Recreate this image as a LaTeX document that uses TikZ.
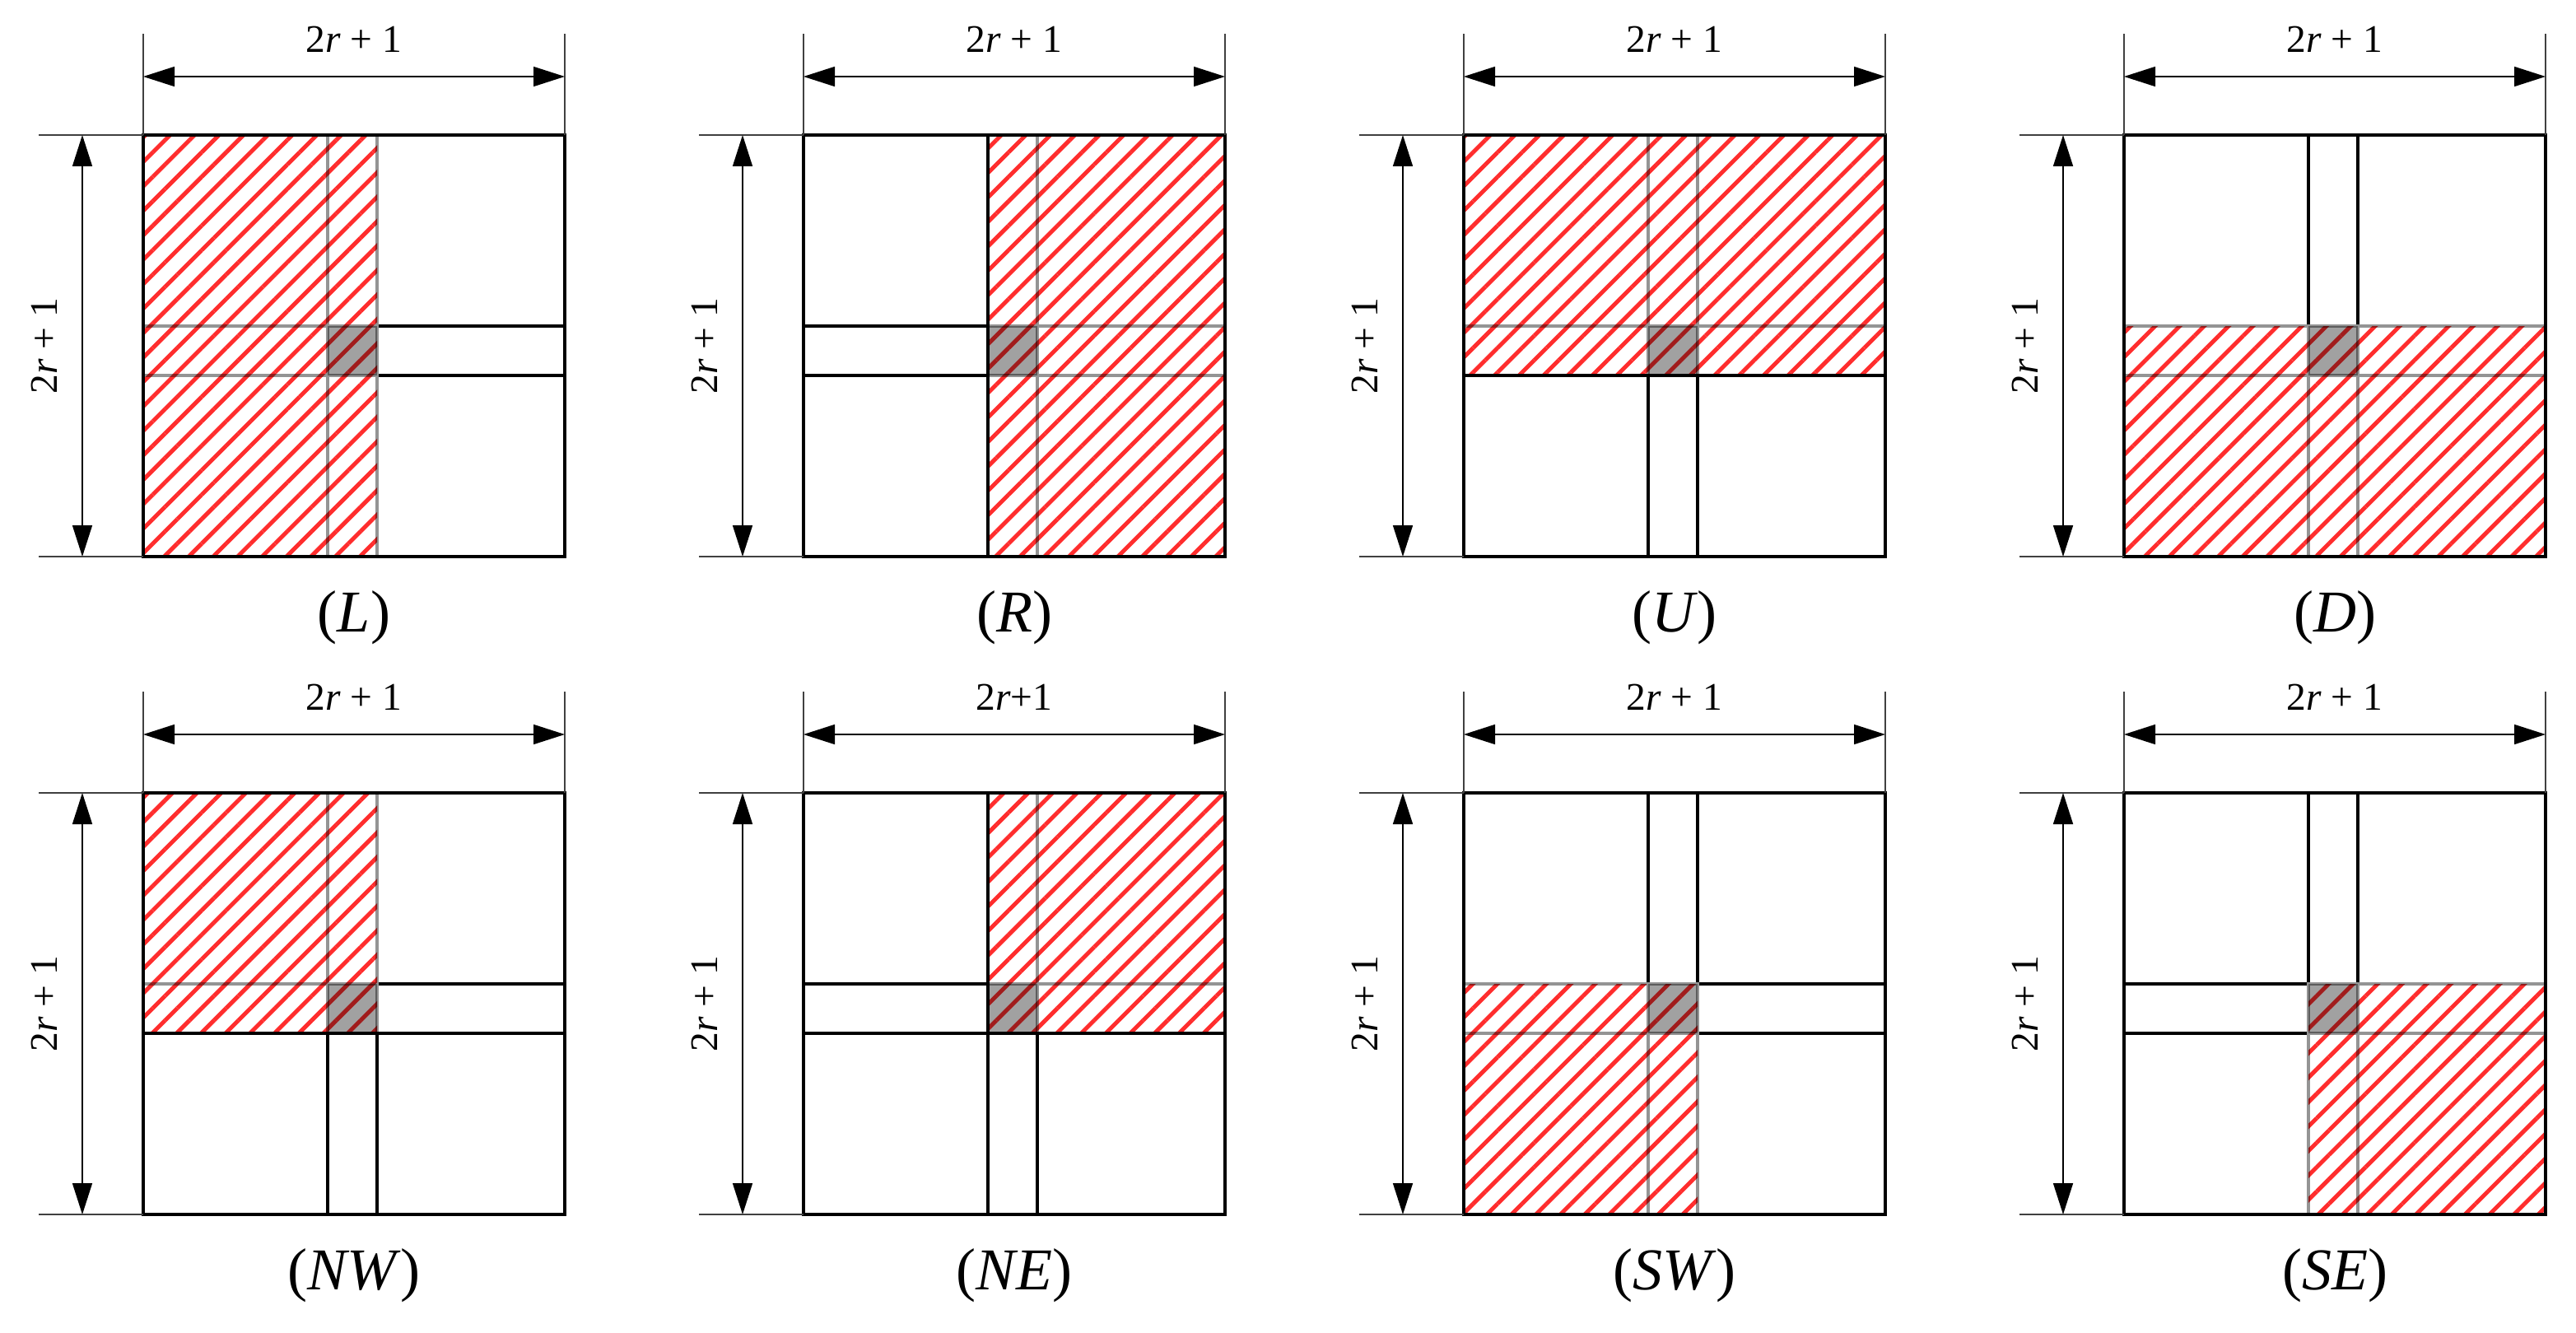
\documentclass[tikz,border=0pt]{standalone}
\usepackage{fontspec}
\setmainfont{Liberation Serif}
\usetikzlibrary{arrows.meta,calc,patterns.meta}

% size of the window and position of the centre strips
\def\sqs{5.12}
\def\sxa{2.24}
\def\sxb{2.84}
\def\sya{2.20}
\def\syb{2.80}

\definecolor{hatchred}{RGB}{255,45,45}

\tikzset{
  boxline/.style={line width=1.15pt, line cap=rect},
  fadeline/.style={line width=0.9pt, draw=black, draw opacity=0.42},
  hatchfill/.style={pattern={Lines[angle=45,distance=0.21cm,line width=0.05cm]}, pattern color=hatchred},
  centrecell/.style={fill=black, fill opacity=0.37},
  extline/.style={line width=0.45pt, draw=black!75},
  dimarrow/.style={line width=0.45pt, {Triangle[length=0.38cm,width=0.24cm]}-{Triangle[length=0.38cm,width=0.24cm]}},
  dimlabel/.style={font=\fontsize{13.5}{16}\selectfont, inner sep=0pt},
  panelcap/.style={font=\fontsize{20.5}{24}\selectfont, inner sep=0pt}
}

% #1 name, #2 origin, #3/#4 corners of hatched part, #5 caption, #6 top label, #7 black edges on top
\newcommand{\boxpanel}[7]{%
  \begin{scope}[shift={(#2)}]
    \coordinate (#1-sw) at (0,0);
    \coordinate (#1-se) at (\sqs,0);
    \coordinate (#1-nw) at (0,\sqs);
    \coordinate (#1-ne) at (\sqs,\sqs);
    % centre strips
    \draw[boxline] (\sxa,0) -- (\sxa,\sqs) (\sxb,0) -- (\sxb,\sqs)
      (0,\sya) -- (\sqs,\sya) (0,\syb) -- (\sqs,\syb);
    % hatched part
    \fill[white] ($(#3)+(-.02,-.02)$) rectangle ($(#4)+(.02,.02)$);
    \fill[hatchfill] (#3) rectangle (#4);
    \begin{scope}
      \clip ($(#3)+(-.02,-.02)$) rectangle ($(#4)+(.02,.02)$);
      \draw[fadeline] (\sxa,0) -- (\sxa,\sqs) (\sxb,0) -- (\sxb,\sqs)
        (0,\sya) -- (\sqs,\sya) (0,\syb) -- (\sqs,\syb);
    \end{scope}
    \fill[centrecell] (\sxa,\sya) rectangle (\sxb,\syb);
    #7
    \draw[boxline] (#1-sw) rectangle (#1-ne);
    % dimensions
    \coordinate (#1-e1) at ($(#1-nw)+(0,1.23)$);
    \coordinate (#1-e2) at ($(#1-ne)+(0,1.23)$);
    \coordinate (#1-e3) at ($(#1-nw)+(-1.27,0)$);
    \coordinate (#1-e4) at ($(#1-sw)+(-1.27,0)$);
    \draw[extline] (#1-nw) -- (#1-e1) (#1-ne) -- (#1-e2)
      (#1-nw) -- (#1-e3) (#1-sw) -- (#1-e4);
    \coordinate (#1-t1) at ($(#1-nw)+(0,.71)$);
    \coordinate (#1-t2) at ($(#1-ne)+(0,.71)$);
    \coordinate (#1-l1) at ($(#1-sw)+(-.74,0)$);
    \coordinate (#1-l2) at ($(#1-nw)+(-.74,0)$);
    \draw[dimarrow] (#1-t1) -- (#1-t2);
    \draw[dimarrow] (#1-l1) -- (#1-l2);
    \node[dimlabel] (#1-top) at ($(#1-t1)!.5!(#1-t2)+(0,.45)$) {#6};
    \node[dimlabel, rotate=90] (#1-side) at ($(#1-l1)!.5!(#1-l2)+(-.46,0)$) {2\textit{r} + 1};
    \node[panelcap] (#1-cap) at ($(#1-sw)!.5!(#1-se)+(0,-.74)$) {#5};
  \end{scope}}

\begin{document}
\begin{tikzpicture}
\useasboundingbox (0,0) rectangle (31.29,16.18);

% upper row
\boxpanel{L}{1.74,9.42}{0,0}{\sxb,\sqs}{(\textit{L})}{2\textit{r} + 1}{}
\boxpanel{R}{9.76,9.42}{\sxa,0}{\sqs,\sqs}{(\textit{R})}{2\textit{r} + 1}
  {\draw[boxline] (\sxa,0) -- (\sxa,\sqs);}
\boxpanel{U}{17.78,9.42}{0,\sya}{\sqs,\sqs}{(\textit{U})}{2\textit{r} + 1}
  {\draw[boxline] (0,\sya) -- (\sqs,\sya);}
\boxpanel{D}{25.80,9.42}{0,0}{\sqs,\syb}{(\textit{D})}{2\textit{r} + 1}{}

% lower row
\boxpanel{NW}{1.74,1.43}{0,\sya}{\sxb,\sqs}{(\textit{NW})}{2\textit{r} + 1}
  {\draw[boxline] (0,\sya) -- (\sqs,\sya);}
\boxpanel{NE}{9.76,1.43}{\sxa,\sya}{\sqs,\sqs}{(\textit{NE})}{2\textit{r}+1}
  {\draw[boxline] (\sxa,0) -- (\sxa,\sqs) (0,\sya) -- (\sqs,\sya);}
\boxpanel{SW}{17.78,1.43}{0,0}{\sxb,\syb}{(\textit{SW})}{2\textit{r} + 1}{}
\boxpanel{SE}{25.80,1.43}{\sxa,0}{\sqs,\syb}{(\textit{SE})}{2\textit{r} + 1}{}

\end{tikzpicture}
\end{document}
